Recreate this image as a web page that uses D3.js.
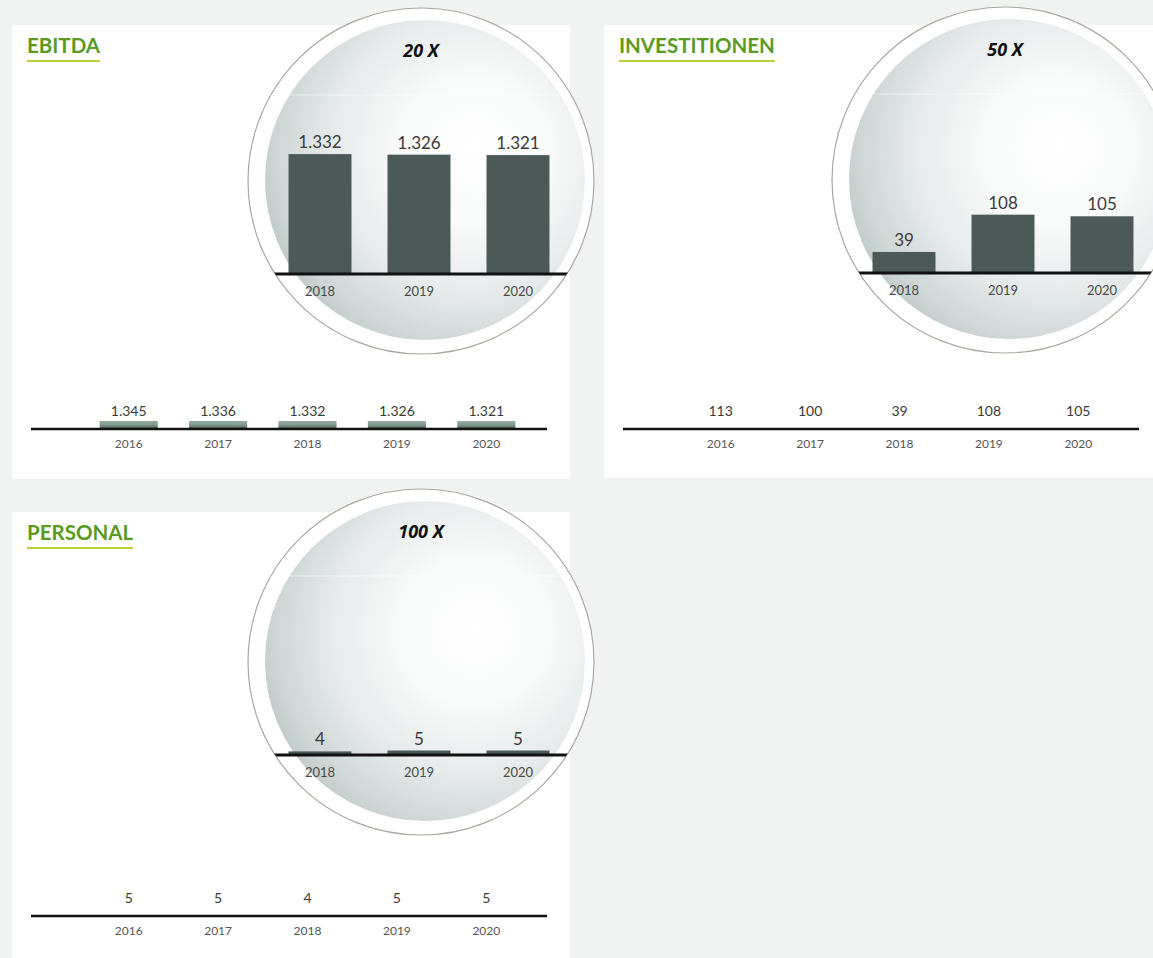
<!DOCTYPE html>
<html>
<head>
<meta charset="utf-8">
<script src="https://cdn.jsdelivr.net/npm/d3@7"></script>
<style>
  html, body { margin: 0; padding: 0; background: #f1f3f2; }
  svg { display: block; }
</style>
</head>
<body>
<script>
// ---------- DATA ----------
const years = ["2016", "2017", "2018", "2019", "2020"];
const zoomYears = ["2018", "2019", "2020"];
const titles = ["EBITDA", "INVESTITIONEN", "PERSONAL"];
const zoomLabels = ["20 X", "50 X", "100 X"];
const ebitdaValues = [1345, 1336, 1332, 1326, 1321];
const investValues = [113, 100, 39, 108, 105];
const personalValues = [5, 5, 4, 5, 5];
const seriesValues = [ebitdaValues, investValues, personalValues];
// y-domain maxima for the magnified circle charts
const zoomDomainMax = [1500, 250, 150];
const baseDomainMax = 1500;

// ---------- LAYOUT ----------
const W = 1153, H = 958;
const panels = [
  { x: 12, y: 25, w: 558, h: 454, cx: 421, cy: 181 },
  { x: 604, y: 25, w: 549, h: 453, cx: 1005, cy: 180 },
  { x: 12, y: 512, w: 558, h: 446, cx: 421, cy: 662 }
];
const R = 173;

const de = d3.formatLocale({ decimal: ",", thousands: ".", grouping: [3], currency: ["", "€"] });
const fmt = de.format(",");

const svg = d3.select("body").append("svg").attr("width", W).attr("height", H);
svg.append("rect").attr("width", W).attr("height", H).attr("fill", "#f1f3f2");

const defs = svg.append("defs");
const rg = defs.append("radialGradient").attr("id", "lens")
  .attr("cx", 0.64).attr("cy", 0.42).attr("r", 0.72).attr("fx", 0.66).attr("fy", 0.4);
[[0, "#ffffff"], [0.32, "#f9fafa"], [0.62, "#e6eaea"], [0.85, "#cdd6d5"], [1, "#b4c1c0"]]
  .forEach(([o, c]) => rg.append("stop").attr("offset", o).attr("stop-color", c));
const lg = defs.append("linearGradient").attr("id", "barGrad")
  .attr("x1", 0).attr("y1", 0).attr("x2", 0).attr("y2", 1);
[[0, "#93ad9f"], [0.55, "#7b9588"], [1, "#3c4f47"]]
  .forEach(([o, c]) => lg.append("stop").attr("offset", o).attr("stop-color", c));

const FONT = "Lato, 'Open Sans', sans-serif";

panels.forEach((p, i) => {
  const vals = seriesValues[i];
  const g = svg.append("g");
  g.append("rect").attr("x", p.x).attr("y", p.y).attr("width", p.w).attr("height", p.h).attr("fill", "#ffffff");

  // title + underline
  const t = g.append("text").attr("x", p.x + 15).attr("y", p.y + 28)
    .attr("font-family", FONT).attr("font-weight", 700).attr("font-size", 20.5)
    .attr("fill", "#5a9a22").text(titles[i]);
  const tw = t.node().getComputedTextLength();
  g.append("line").attr("x1", p.x + 15).attr("x2", p.x + 15 + tw)
    .attr("y1", p.y + 36).attr("y2", p.y + 36)
    .attr("stroke", "#b5d23b").attr("stroke-width", 2);

  // bottom (unmagnified) chart
  const base = p.y + 404;
  const x = d3.scaleBand().domain(years).range([p.x + 72, p.x + 519])
    .paddingInner(0.35).paddingOuter(0.175);
  const y = d3.scaleLinear().domain([0, baseDomainMax]).range([base, base - 9]);
  g.selectAll(".bbar").data(vals).join("rect")
    .attr("x", (d, j) => x(years[j])).attr("width", x.bandwidth())
    .attr("y", d => y(d)).attr("height", d => base - y(d))
    .attr("fill", "url(#barGrad)");
  g.append("line").attr("x1", p.x + 19).attr("x2", p.x + 535)
    .attr("y1", base).attr("y2", base).attr("stroke", "#111").attr("stroke-width", 2.5);
  g.selectAll(".bval").data(vals).join("text")
    .attr("x", (d, j) => x(years[j]) + x.bandwidth() / 2).attr("y", base - 13)
    .attr("text-anchor", "middle").attr("font-family", FONT).attr("font-size", 14)
    .attr("fill", "#3a3a3a").text(d => fmt(d));
  g.selectAll(".byear").data(years).join("text")
    .attr("x", d => x(d) + x.bandwidth() / 2).attr("y", base + 19)
    .attr("text-anchor", "middle").attr("font-family", FONT).attr("font-size", 12)
    .attr("fill", "#555").text(d => d);
});

// magnifier circles
panels.forEach((p, i) => {
  const vals = seriesValues[i].slice(2);
  const g = svg.append("g");
  const cid = "clip" + i;
  defs.append("clipPath").attr("id", cid).append("circle")
    .attr("cx", p.cx).attr("cy", p.cy).attr("r", R);
  g.append("circle").attr("cx", p.cx).attr("cy", p.cy).attr("r", R)
    .attr("fill", "#ffffff").attr("stroke", "#aaa79f").attr("stroke-width", 1.2);
  g.append("circle").attr("cx", p.cx + 4).attr("cy", p.cy - 1).attr("r", R - 13)
    .attr("fill", "url(#lens)");
  const inner = g.append("g").attr("clip-path", `url(#${cid})`);
  inner.append("line").attr("x1", p.cx - R).attr("x2", p.cx + R)
    .attr("y1", p.cy - 86).attr("y2", p.cy - 86)
    .attr("stroke", "#ffffff").attr("stroke-opacity", 0.55).attr("stroke-width", 1);

  const base = p.cy + 93;
  const x = d3.scaleBand().domain(zoomYears).range([p.cx - 150.5, p.cx + 146.5])
    .paddingInner(0.364).paddingOuter(0.182);
  const y = d3.scaleLinear().domain([0, zoomDomainMax[i]]).range([base, base - 135]);
  inner.selectAll(".zbar").data(vals).join("rect")
    .attr("x", (d, j) => x(zoomYears[j])).attr("width", x.bandwidth())
    .attr("y", d => y(d)).attr("height", d => base - y(d))
    .attr("fill", "#4b5a56");
  inner.append("line").attr("x1", p.cx - R).attr("x2", p.cx + R)
    .attr("y1", base).attr("y2", base).attr("stroke", "#111").attr("stroke-width", 3);
  inner.selectAll(".zval").data(vals).join("text")
    .attr("x", (d, j) => x(zoomYears[j]) + x.bandwidth() / 2).attr("y", d => y(d) - 6)
    .attr("text-anchor", "middle").attr("font-family", FONT).attr("font-size", 17)
    .attr("fill", "#3a3a3a").text(d => fmt(d));
  inner.selectAll(".zyear").data(zoomYears).join("text")
    .attr("x", d => x(d) + x.bandwidth() / 2).attr("y", base + 22)
    .attr("text-anchor", "middle").attr("font-family", FONT).attr("font-size", 13)
    .attr("fill", "#4a4a4a").text(d => d);
  g.append("text").attr("x", p.cx).attr("y", p.cy - 124)
    .attr("text-anchor", "middle").attr("font-family", "'Noto Sans', 'DejaVu Sans', sans-serif")
    .attr("font-weight", 700).attr("font-style", "italic").attr("font-size", 18)
    .attr("fill", "#111").text(zoomLabels[i]);
});
</script>
</body>
</html>
